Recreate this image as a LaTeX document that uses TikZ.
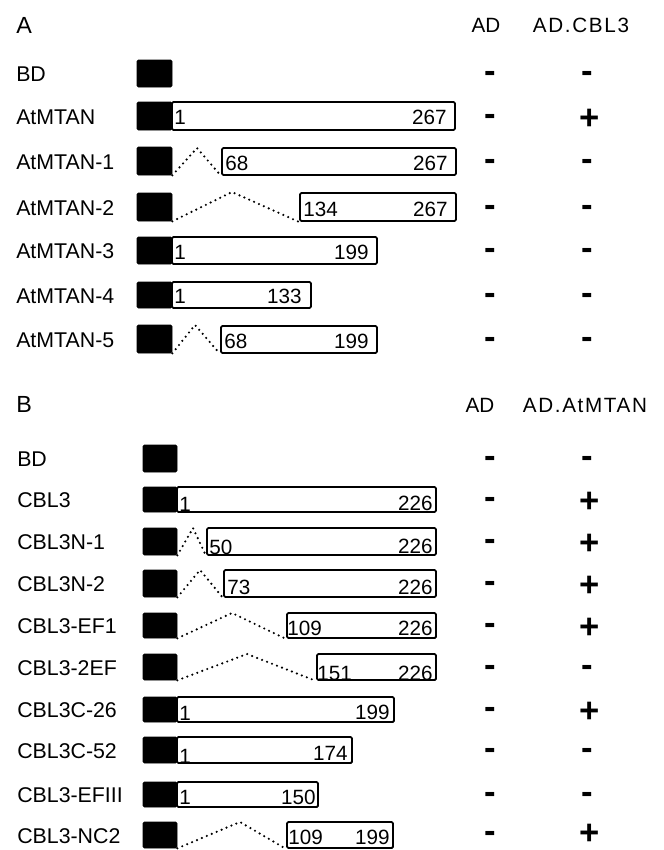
\documentclass[tikz,border=0pt]{standalone}
\usepackage{fontspec}
\setmainfont{Liberation Sans}
\newfontfamily\spacedfont[LetterSpace=8]{Liberation Sans}
\usetikzlibrary{fit,calc}
\begin{document}
\begin{tikzpicture}[x=0.75pt,y=-0.75pt,
  lbl/.style={anchor=west, inner sep=0, font=\fontsize{16}{19}\selectfont},
  hdr/.style={inner sep=0, font=\fontsize{15.5}{18}\selectfont},
  panel/.style={anchor=west, inner sep=0, font=\fontsize{17.5}{20}\selectfont},
  bdbox/.style={fill=black, draw=black, line width=0.5pt, rounded corners=1pt, inner sep=0},
  seg/.style={fill=white, draw=black, line width=1.4pt, rounded corners=1pt, inner sep=0},
  num/.style={inner sep=0, font=\fontsize{15.5}{18}\selectfont},
  mk/.style={inner sep=0, font=\fontsize{26}{30}\selectfont\bfseries},
  gap/.style={draw=black, line width=1.8pt, dash pattern=on 0pt off 4pt, line cap=round}
]
\useasboundingbox (0,0) rectangle (664,850);

% ---------------- Panel A ----------------
\node[panel] (pA) at (16,25) {A};
\node[hdr] (hA1) at (486,25) {AD};
\node[hdr] (hA2) at (581,25) {\spacedfont AD.CBL3};

% BD
\node[lbl] (a0l) at (16,74) {BD};
\node[bdbox, fit={(137,60) (172,87)}] (a0b) {};
\node[mk] (a0m1) at (490,77) {-};
\node[mk] (a0m2) at (587,77) {-};

% AtMTAN
\node[lbl] (a1l) at (16,117) {AtMTAN};
\node[bdbox, fit={(137,102) (172,130)}] (a1b) {};
\node[seg, fit={(172,102) (455,130)}] (a1s) {};
\node[num, anchor=base west] at ($(a1s.south west)+(3,-6)$) {1};
\node[num, anchor=base east] at ($(a1s.south east)+(-9,-6)$) {267};
\node[mk] (a1m1) at (490,120) {-};
\node[mk] (a1m2) at (590,119) {+};

% AtMTAN-1
\node[lbl] (a2l) at (16,162) {AtMTAN-1};
\node[bdbox, fit={(137,147) (172,175)}] (a2b) {};
\node[seg, fit={(222,148) (456,175)}] (a2s) {};
\coordinate (a2p) at (197,148);
\draw[gap] (a2b.south east) -- (a2p) -- (a2s.south west);
\node[num, anchor=base west] at ($(a2s.south west)+(4,-5)$) {68};
\node[num, anchor=base east] at ($(a2s.south east)+(-9,-5)$) {267};
\node[mk] (a2m1) at (490,165) {-};
\node[mk] (a2m2) at (587,165) {-};

% AtMTAN-2
\node[lbl] (a3l) at (16,208) {AtMTAN-2};
\node[bdbox, fit={(137,193) (172,221)}] (a3b) {};
\node[seg, fit={(300,193) (456,221)}] (a3s) {};
\coordinate (a3p) at (232,192);
\draw[gap] (a3b.south east) -- (a3p) -- (a3s.south west);
\node[num, anchor=base west] at ($(a3s.south west)+(4,-5)$) {134};
\node[num, anchor=base east] at ($(a3s.south east)+(-9,-5)$) {267};
\node[mk] (a3m1) at (490,211) {-};
\node[mk] (a3m2) at (587,211) {-};

% AtMTAN-3
\node[lbl] (a4l) at (16,251) {AtMTAN-3};
\node[bdbox, fit={(137,237) (172,264)}] (a4b) {};
\node[seg, fit={(172,237) (377,264)}] (a4s) {};
\node[num, anchor=base west] at ($(a4s.south west)+(3,-5)$) {1};
\node[num, anchor=base east] at ($(a4s.south east)+(-9,-5)$) {199};
\node[mk] (a4m1) at (490,254) {-};
\node[mk] (a4m2) at (587,254) {-};

% AtMTAN-4
\node[lbl] (a5l) at (16,296) {AtMTAN-4};
\node[bdbox, fit={(137,282) (172,308)}] (a5b) {};
\node[seg, fit={(172,282) (311,308)}] (a5s) {};
\node[num, anchor=base west] at ($(a5s.south west)+(3,-5)$) {1};
\node[num, anchor=base east] at ($(a5s.south east)+(-10,-5)$) {133};
\node[mk] (a5m1) at (490,299) {-};
\node[mk] (a5m2) at (587,299) {-};

% AtMTAN-5
\node[lbl] (a6l) at (16,340) {AtMTAN-5};
\node[bdbox, fit={(137,325) (172,353)}] (a6b) {};
\node[seg, fit={(221,326) (377,353)}] (a6s) {};
\coordinate (a6p) at (195,325);
\draw[gap] (a6b.south east) -- (a6p) -- (a6s.south west);
\node[num, anchor=base west] at ($(a6s.south west)+(4,-5)$) {68};
\node[num, anchor=base east] at ($(a6s.south east)+(-9,-5)$) {199};
\node[mk] (a6m1) at (490,343) {-};
\node[mk] (a6m2) at (587,343) {-};

% ---------------- Panel B ----------------
\node[panel] (pB) at (16,404) {B};
\node[hdr] (hB1) at (480,405) {AD};
\node[hdr] (hB2) at (585,405) {\spacedfont AD.AtMTAN};

% BD
\node[lbl] (b0l) at (17,459) {BD};
\node[bdbox, fit={(143,445) (177,472)}] (b0b) {};
\node[mk] (b0m1) at (490,462) {-};
\node[mk] (b0m2) at (587,462) {-};

% CBL3
\node[lbl] (b1l) at (17,500) {CBL3};
\node[bdbox, fit={(143,487) (177,512)}] (b1b) {};
\node[seg, fit={(177,487) (436,512)}] (b1s) {};
\node[num, anchor=base west] at ($(b1s.south west)+(3,-1)$) {1};
\node[num, anchor=base east] at ($(b1s.south east)+(-4,-2)$) {226};
\node[mk] (b1m1) at (490,503) {-};
\node[mk] (b1m2) at (590,502) {+};

% CBL3N-1
\node[lbl] (b2l) at (17,542) {CBL3N-1};
\node[bdbox, fit={(143,528) (177,555)}] (b2b) {};
\node[seg, fit={(207,528) (436,555)}] (b2s) {};
\coordinate (b2p) at (193,528);
\draw[gap] (b2b.south east) -- (b2p) -- (b2s.south west);
\node[num, anchor=base west] at ($(b2s.south west)+(3,-1)$) {50};
\node[num, anchor=base east] at ($(b2s.south east)+(-4,-2)$) {226};
\node[mk] (b2m1) at (490,545) {-};
\node[mk] (b2m2) at (590,544) {+};

% CBL3N-2
\node[lbl] (b3l) at (17,584) {CBL3N-2};
\node[bdbox, fit={(143,570) (177,597)}] (b3b) {};
\node[seg, fit={(224,570) (436,597)}] (b3s) {};
\coordinate (b3p) at (200,570);
\draw[gap] (b3b.south east) -- (b3p) -- (b3s.south west);
\node[num, anchor=base west] at ($(b3s.south west)+(4,-3)$) {73};
\node[num, anchor=base east] at ($(b3s.south east)+(-4,-3)$) {226};
\node[mk] (b3m1) at (490,587) {-};
\node[mk] (b3m2) at (590,586) {+};

% CBL3-EF1
\node[lbl] (b4l) at (17,626) {CBL3-EF1};
\node[bdbox, fit={(143,613) (177,638)}] (b4b) {};
\node[seg, fit={(287,613) (436,638)}] (b4s) {};
\coordinate (b4p) at (232,613);
\draw[gap] (b4b.south east) -- (b4p) -- (b4s.south west);
\node[num, anchor=base west] at ($(b4s.south west)+(1,-3)$) {109};
\node[num, anchor=base east] at ($(b4s.south east)+(-4,-3)$) {226};
\node[mk] (b4m1) at (490,629) {-};
\node[mk] (b4m2) at (590,628) {+};

% CBL3-2EF
\node[lbl] (b5l) at (17,668) {CBL3-2EF};
\node[bdbox, fit={(143,654) (177,680)}] (b5b) {};
\node[seg, fit={(317,654) (436,680)}] (b5s) {};
\coordinate (b5p) at (247,654);
\draw[gap] (b5b.south east) -- (b5p) -- (b5s.south west);
\node[num, anchor=base west] at ($(b5s.south west)+(1,0)$) {151};
\node[num, anchor=base east] at ($(b5s.south east)+(-4,0)$) {226};
\node[mk] (b5m1) at (490,671) {-};
\node[mk] (b5m2) at (587,671) {-};

% CBL3C-26
\node[lbl] (b6l) at (17,710) {CBL3C-26};
\node[bdbox, fit={(143,697) (177,722)}] (b6b) {};
\node[seg, fit={(177,697) (394,722)}] (b6s) {};
\node[num, anchor=base west] at ($(b6s.south west)+(3,-2)$) {1};
\node[num, anchor=base east] at ($(b6s.south east)+(-5,-3)$) {199};
\node[mk] (b6m1) at (490,713) {-};
\node[mk] (b6m2) at (590,712) {+};

% CBL3C-52
\node[lbl] (b7l) at (17,751) {CBL3C-52};
\node[bdbox, fit={(143,737) (177,763)}] (b7b) {};
\node[seg, fit={(177,737) (352,763)}] (b7s) {};
\node[num, anchor=base west] at ($(b7s.south west)+(3,0)$) {1};
\node[num, anchor=base east] at ($(b7s.south east)+(-5,-3)$) {174};
\node[mk] (b7m1) at (490,754) {-};
\node[mk] (b7m2) at (587,754) {-};

% CBL3-EFIII
\node[lbl] (b8l) at (17,795) {CBL3-EFIII};
\node[bdbox, fit={(143,782) (177,807)}] (b8b) {};
\node[seg, fit={(177,782) (318,807)}] (b8s) {};
\node[num, anchor=base west] at ($(b8s.south west)+(3,-3)$) {1};
\node[num, anchor=base east] at ($(b8s.south east)+(-3,-3)$) {150};
\node[mk] (b8m1) at (490,798) {-};
\node[mk] (b8m2) at (587,798) {-};

% CBL3-NC2
\node[lbl] (b9l) at (17,836) {CBL3-NC2};
\node[bdbox, fit={(143,822) (177,848)}] (b9b) {};
\node[seg, fit={(287,822) (393,848)}] (b9s) {};
\coordinate (b9p) at (240,822);
\draw[gap] (b9b.south east) -- (b9p) -- (b9s.south west);
\node[num, anchor=base west] at ($(b9s.south west)+(2,-4)$) {109};
\node[num, anchor=base east] at ($(b9s.south east)+(-4,-4)$) {199};
\node[mk] (b9m1) at (490,837) {-};
\node[mk] (b9m2) at (590,834) {+};
\end{tikzpicture}
\end{document}
